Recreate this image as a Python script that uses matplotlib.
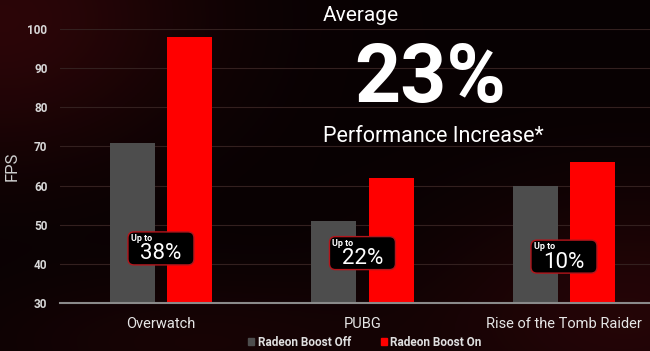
import numpy as np
import matplotlib
matplotlib.use("Agg")
import matplotlib.pyplot as plt
from matplotlib.patches import FancyBboxPatch, Patch
from matplotlib.transforms import ScaledTranslation

plt.rcParams['font.family'] = ['Roboto', 'DejaVu Sans']

# data
games = ['Overwatch', 'PUBG', 'Rise of the Tomb Raider']
fps_off = [71, 51, 60]
fps_on = [98, 62, 66]
gains = ['38%', '22%', '10%']
yticks = [30, 40, 50, 60, 70, 80, 90, 100]

# where the "Up to" boxes sit (y in FPS units)
callout_y = [43.9, 42.7, 41.8]

W, H = 650, 351
fig = plt.figure(figsize=(W / 100, H / 100), dpi=100)

# dark red background glow
bg = fig.add_axes([0, 0, 1, 1], zorder=-10)
xx, yy = np.meshgrid(np.linspace(0, 1, 260), np.linspace(0, 1, 140))
glow = (0.7 * np.exp(-(((xx - 0.0) / 0.3) ** 2 + ((yy - 0.05) / 0.4) ** 2))
        + 0.55 * np.exp(-(((xx - 0.97) / 0.3) ** 2 + ((yy - 0.9) / 0.35) ** 2))
        + 0.3 * np.exp(-(((xx - 0.3) / 0.35) ** 2 + ((yy - 0.98) / 0.2) ** 2)))
glow = np.clip(glow, 0, 1)
img = np.zeros(xx.shape + (3,))
img[..., 0] = 0.03 + 0.2 * glow
img[..., 1] = 0.006 + 0.025 * glow
img[..., 2] = 0.01 + 0.03 * glow
bg.imshow(img, aspect='auto', extent=[0, 1, 0, 1], origin='upper')
bg.axis('off')

ax = fig.add_axes([60 / W, (H - 302.7) / H, 590 / W, 273.4 / H])
ax.patch.set_alpha(0)

x = np.arange(len(games))
bw = 0.223
off = 0.143
ax.bar(x - off, np.array(fps_off) - 30, bw, bottom=30, color='#4d4d4d', zorder=3)
ax.bar(x + off, np.array(fps_on) - 30, bw, bottom=30, color='#ff0000', zorder=3)

ax.set_xlim(-0.501, 2.427)
ax.set_ylim(30, 100)
ax.set_yticks(yticks)
ax.set_yticklabels([str(v) for v in yticks], color='#d8d8d8', fontsize=8.5,
                   fontweight='bold')
ax.set_xticks(x)
ax.set_xticklabels(games, color='#e6e6e6', fontsize=10.5)
ax.tick_params(axis='both', length=0)
ax.tick_params(axis='y', pad=9)
ax.tick_params(axis='x', pad=10)
ax.grid(axis='y', color='#33201f', linewidth=0.8, zorder=0)
for s in ['top', 'right', 'left']:
    ax.spines[s].set_visible(False)
ax.spines['bottom'].set_color('#8a8a8a')
ax.spines['bottom'].set_linewidth(1.5)
ax.spines['bottom'].set_zorder(4)
ax.set_ylabel('FPS', color='#cfcfcf', fontsize=12, labelpad=6)

# "Up to xx%" boxes
for i, g in enumerate(gains):
    tr = fig.dpi_scale_trans + ScaledTranslation(x[i], callout_y[i], ax.transData)
    box = FancyBboxPatch((-0.31, -0.145), 0.62, 0.29,
                         boxstyle='round,pad=0.02,rounding_size=0.06',
                         transform=tr, facecolor='black', edgecolor='#b3161c',
                         linewidth=1.0, zorder=5, clip_on=False)
    ax.add_patch(box)
    ax.text(-0.30, 0.10, 'Up to', transform=tr, color='white', fontsize=6.5,
            fontweight='bold', ha='left', va='center', zorder=6)
    ax.text(0.0, -0.055, g, transform=tr, color='white', fontsize=16,
            ha='center', va='center', zorder=6)

# headline
fig.text(323 / W, 1 - 21 / H, 'Average', color='white', fontsize=15,
         ha='left', va='baseline')
fig.text(430 / W, 1 - 102 / H, '23%', color='white', fontsize=58,
         fontweight='bold', ha='center', va='baseline')
fig.text(323 / W, 1 - 142 / H, 'Performance Increase*', color='white',
         fontsize=15.5, ha='left', va='baseline')

handles = [Patch(color='#4d4d4d', label='Radeon Boost Off'),
           Patch(color='#ff0000', label='Radeon Boost On')]
leg = fig.legend(handles=handles, loc='center', bbox_to_anchor=(365 / W, 1 - 342 / H),
                 ncol=2, frameon=False, handlelength=0.5,
                 handleheight=0.5, handletextpad=0.3, columnspacing=2.5,
                 prop={'weight': 'bold', 'size': 8.5})
for t in leg.get_texts():
    t.set_color('#e0e0e0')

fig.savefig('out.png', dpi=100, facecolor='black')
